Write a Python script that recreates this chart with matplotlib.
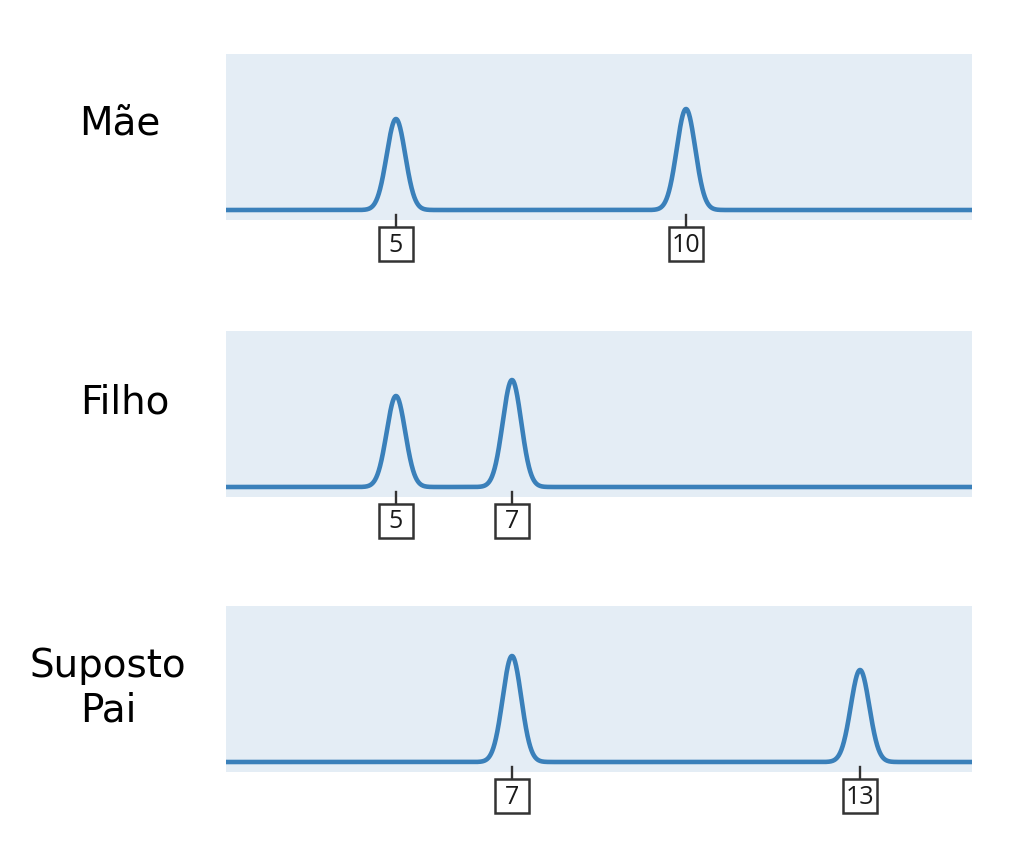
import numpy as np
import matplotlib
matplotlib.use("Agg")
import matplotlib.pyplot as plt

# data
labels = ["Mãe", "Filho", "Suposto\nPai"]
peaks = [[5, 10], [5, 7], [7, 13]]
heights = [[91, 101], [91, 107], [106, 92]]

line_color = "#3a80ba"
bg_color = "#e4edf5"
box_color = "#333333"

W, H = 1024, 865
fig = plt.figure(figsize=(W / 100, H / 100), dpi=100)

panel_tops = [54, 331, 606]
panel_h = 166
left, right = 226, 972
label_pos = [(120, 125), (125, 402), (108, 688)]

x = np.linspace(2.07, 14.93, 3000)
sigma = 0.16

for i in range(3):
    top = panel_tops[i]
    ax = fig.add_axes([left / W, 1 - (top + panel_h) / H, (right - left) / W, panel_h / H])
    ax.set_facecolor(bg_color)
    for s in ax.spines.values():
        s.set_visible(False)
    ax.set_xticks([])
    ax.set_yticks([])
    ax.set_xlim(2.07, 14.93)
    ax.set_ylim(-10, panel_h - 10)

    y = np.zeros_like(x)
    for p, h in zip(peaks[i], heights[i]):
        y += h * np.exp(-0.5 * ((x - p) / sigma) ** 2)
    ax.plot(x, y, color=line_color, lw=3.3, solid_capstyle="butt", zorder=3)

    # allele labels in boxes
    for p in peaks[i]:
        ax.plot([p, p], [-5, -17], color=box_color, lw=1.7, clip_on=False)
        ax.plot([p], [-34], marker="s", ms=24.5, mfc="white", mec=box_color,
                mew=1.8, clip_on=False)
        ax.text(p, -35, str(p), ha="center", va="center", fontsize=18,
                family="Open Sans", color="#1a1a1a", clip_on=False)

    lx, ly = label_pos[i]
    fig.text(lx / W, 1 - ly / H, labels[i], ha="center", va="center",
             fontsize=28, family="DejaVu Sans", linespacing=1.2)

fig.savefig("out.png", dpi=100)
